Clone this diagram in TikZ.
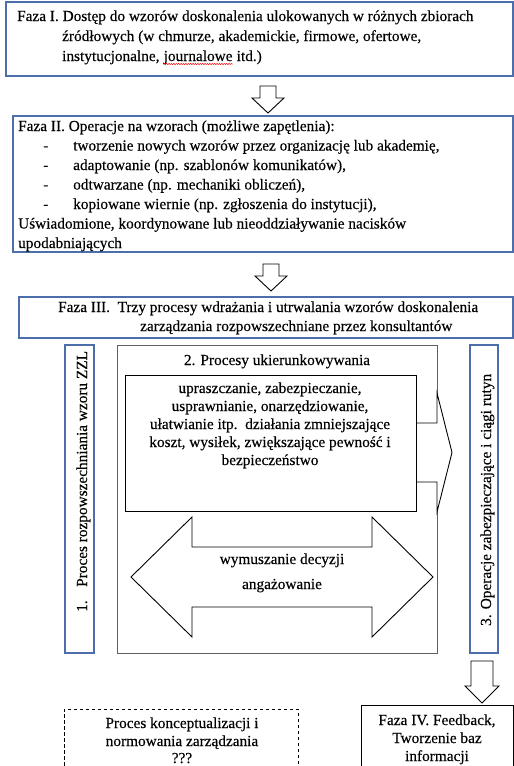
\documentclass[tikz,border=0pt]{standalone}
\usepackage{fontspec}
\setmainfont{Liberation Serif}
\newfontfamily\tnr[FakeBold=0.25]{Liberation Serif}
\usetikzlibrary{calc,fit,decorations.pathmorphing}
\definecolor{bluebd}{RGB}{76,110,170}
\definecolor{graybd}{RGB}{95,95,95}
\begin{document}
\begin{tikzpicture}[x=1pt,y=-1pt,
  txt/.style={inner sep=0pt, font=\tnr\fontsize{15.3}{18.5}\selectfont},
  bbox/.style={draw=bluebd, line width=1.2pt, inner sep=0pt},
  kbox/.style={draw=black, line width=0.8pt, inner sep=0pt},
  gbox/.style={draw=graybd, line width=1pt, inner sep=0pt},
  dbox/.style={draw=black, line width=0.8pt, dash pattern=on 3.5pt off 2.5pt, inner sep=0pt},
  blockarrow/.style={draw=black, line width=0.9pt, fill=white, line join=miter}
]
\useasboundingbox (0,0) rectangle (514,766);
\clip (0,0) rectangle (514,766);

% ---------- Faza I
\node[bbox, fit={(6,2) (513,76)}] (faza1) {};
\node[txt, anchor=base west] (f1a) at (17,21) {Faza I. Dostęp do wzorów doskonalenia ulokowanych w różnych zbiorach};
\node[txt, anchor=base west] (f1b) at (62,41) {źródłowych (w chmurze, akademickie, firmowe, ofertowe,};
\node[txt, anchor=base west] (f1c) at (62,61) {instytucjonalne,};
\node[txt, anchor=base west] (jw) at ($(f1c.base east)+(3.8,0)$) {journalowe};
\node[txt, anchor=base west] (f1d) at ($(jw.base east)+(3.8,0)$) {itd.)};
\draw[red, line width=0.5pt, decorate, decoration={snake, amplitude=0.6pt, segment length=2.4pt}]
  ($(jw.base west)+(0,3)$) -- ($(jw.base east)+(0,3)$);

% arrow I -> II
\draw[blockarrow] (260,86) -- (276,86) -- (276,98) -- (284,98) -- (268,113) -- (252,98) -- (260,98) -- cycle;

% ---------- Faza II
\node[bbox, fit={(13,116) (513,252)}] (faza2) {};
\node[txt, anchor=base west] (f2a) at (18,131) {Faza II. Operacje na wzorach (możliwe zapętlenia):};
\node[txt, anchor=base west] (d1) at (43,150.5) {-};
\node[txt, anchor=base west] (f2b) at (73,150.5) {tworzenie nowych wzorów przez organizację lub akademię,};
\node[txt, anchor=base west] (d2) at (43,170) {-};
\node[txt, anchor=base west] (f2c) at (73,170) {adaptowanie (np. szablonów komunikatów),};
\node[txt, anchor=base west] (d3) at (43,189.5) {-};
\node[txt, anchor=base west] (f2d) at (73,189.5) {odtwarzane (np. mechaniki obliczeń),};
\node[txt, anchor=base west] (d4) at (43,209) {-};
\node[txt, anchor=base west] (f2e) at (73,209) {kopiowane wiernie (np. zgłoszenia do instytucji),};
\node[txt, anchor=base west] (f2f) at (18,228.5) {Uświadomione, koordynowane lub nieoddziaływanie nacisków};
\node[txt, anchor=base west] (f2g) at (18,248) {upodabniających};

% arrow II -> III
\draw[blockarrow] (263,264) -- (279,264) -- (279,276) -- (287,276) -- (271,291) -- (255,276) -- (263,276) -- cycle;

% ---------- Faza III
\node[bbox, fit={(19,297) (513,338)}] (faza3) {};
\node[txt, anchor=base west] (f3a) at (58,312) {Faza III.\ \ Trzy procesy wdrażania i utrwalania wzorów doskonalenia};
\node[txt, anchor=base west] (f3b) at (140,331) {zarządzania rozpowszechniane przez konsultantów};

% ---------- lower row
\node[bbox, fit={(65,345) (94,653)}] (p1) {};
\node[txt, rotate=90, anchor=base west] (p1t) at (87,612) {\makebox[25pt][l]{1.}Proces rozpowszechniania wzoru ZZL};

\node[gbox, fit={(117,345) (437,653)}] (p2) {};
\node[txt, anchor=base] (p2t) at (277,365) {2. Procesy ukierunkowywania};

\node[bbox, fit={(470,345) (498,653)}] (p3) {};
\node[txt, rotate=90, anchor=base west] (p3t) at (491,626) {3. Operacje zabezpieczające i ciągi rutyn};

% right arrow from inner box
\draw[blockarrow] (410,423) -- (437,423) -- (437,393) -- (452,452.5) -- (437,512) -- (437,482) -- (410,482);

% inner box
\node[kbox, fill=white, fit={(125,375) (416,511)}] (inner) {};
\node[txt, anchor=base] (i1) at (270,393) {upraszczanie, zabezpieczanie,};
\node[txt, anchor=base] (i2) at (270,411) {usprawnianie, onarzędziowanie,};
\node[txt, anchor=base] (i3) at (270,429) {ułatwianie itp.\ \ działania zmniejszające};
\node[txt, anchor=base] (i4) at (270,447) {koszt, wysiłek, zwiększające pewność i};
\node[txt, anchor=base] (i5) at (270,465) {bezpieczeństwo};

% double arrow
\draw[blockarrow] (131,577) -- (192,517) -- (192,547) -- (372,547) -- (372,517) -- (433,577)
  -- (372,637) -- (372,607) -- (192,607) -- (192,637) -- cycle;
\node[txt, anchor=base] (w1) at (282,564) {wymuszanie decyzji};
\node[txt, anchor=base] (w2) at (282,589) {angażowanie};

% arrow to Faza IV
\draw[blockarrow] (471,661) -- (493,661) -- (493,686) -- (499,686) -- (482,703) -- (465,686) -- (471,686) -- cycle;

% ---------- Faza IV
\node[kbox, fit={(361,705) (513,800)}] (faza4) {};
\node[txt, anchor=base] (f4a) at (437,725) {Faza IV. Feedback,};
\node[txt, anchor=base] (f4b) at (437,743) {Tworzenie baz};
\node[txt, anchor=base] (f4c) at (437,761) {informacji};

% ---------- dashed box
\node[dbox, fit={(64,709) (298,800)}] (konc) {};
\node[txt, anchor=base] (k1) at (182,728) {Proces konceptualizacji i};
\node[txt, anchor=base] (k2) at (182,746) {normowania zarządzania};
\node[txt, anchor=base] (k3) at (182,763) {???};
\end{tikzpicture}
\end{document}
